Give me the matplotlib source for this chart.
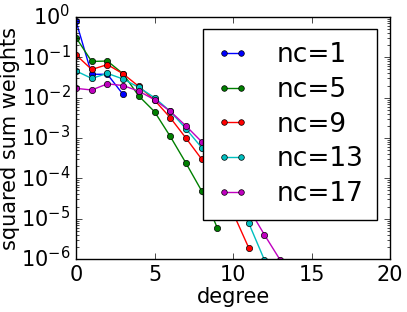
import numpy as np
import matplotlib
matplotlib.use('Agg')
import matplotlib.pyplot as plt

# squared sum weights per degree
labels = ['nc=1', 'nc=5', 'nc=9', 'nc=13', 'nc=17']
nc1 = [0.79, 0.038, 0.038, 0.012]
nc5 = [0.31, 0.079, 0.081, 0.039, 0.011, 0.0045, 0.0011, 2.4e-4, 4.9e-5, 5.9e-6]
nc9 = [0.115, 0.050, 0.066, 0.039, 0.019, 0.0087, 0.0032, 0.0010, 3.0e-4,
       6.3e-5, 1.4e-5, 1.9e-6]
nc13 = [0.046, 0.030, 0.040, 0.029, 0.018, 0.010, 0.0046, 0.0017, 5.8e-4,
        1.4e-4, 3.5e-5, 7.8e-6, 9.5e-7]
nc17 = [0.017, 0.0155, 0.022, 0.020, 0.0145, 0.0089, 0.0046, 0.0020, 8.1e-4,
        2.5e-4, 7.1e-5, 1.8e-5, 4.0e-6, 9.5e-7]
series = [nc1, nc5, nc9, nc13, nc17]
colors = ['b', 'g', 'r', 'c', 'm']

plt.style.use('classic')
plt.rcParams['font.size'] = 15

fig = plt.figure(figsize=(4.07, 3.12), dpi=100, facecolor='white')
ax = fig.add_axes([76 / 407, 1 - 259 / 312, 314 / 407, 242 / 312])

for vals, c, lab in zip(series, colors, labels):
    ax.plot(np.arange(len(vals)), vals, color=c, marker='o', markersize=4.5,
            markeredgecolor='k', markeredgewidth=0.5, linewidth=1, label=lab)

ax.set_yscale('log')
ax.set_xlim(0, 20)
ax.set_ylim(1e-6, 1)
ax.set_xticks([0, 5, 10, 15, 20])
ax.set_xlabel('degree', fontsize=15, labelpad=2)
ax.set_ylabel('squared sum weights', fontsize=15, labelpad=1)
ax.tick_params(labelsize=15)

leg = ax.legend(loc='upper right', bbox_to_anchor=(0.9586, 0.950),
                borderaxespad=0, fontsize=19, numpoints=2, framealpha=1,
                handlelength=1.25, markerscale=0.9, labelspacing=0.33,
                handletextpad=1.05, borderpad=0.5)
leg.get_frame().set_edgecolor('k')

fig.savefig('out.png', dpi=100, facecolor='white')
